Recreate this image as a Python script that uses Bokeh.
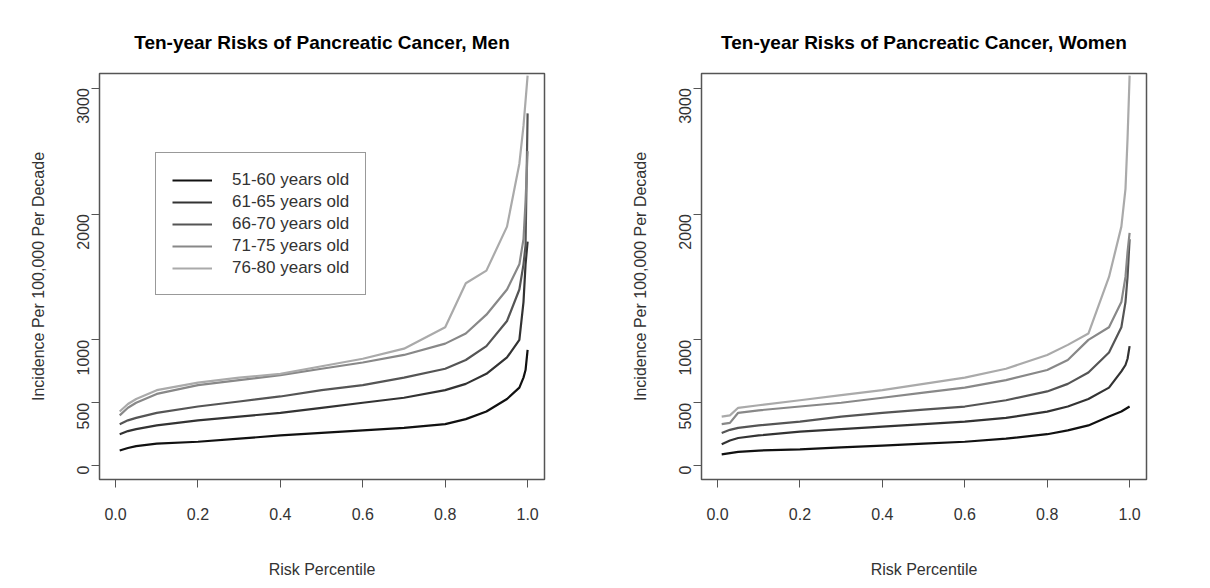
import math
from bokeh.plotting import figure
from bokeh.layouts import row
from bokeh.models import Range1d, FixedTicker, Legend, LegendItem, Title
from bokeh.embed import file_html
from bokeh.resources import INLINE

pct = [0.01, 0.03, 0.05, 0.1, 0.2, 0.3, 0.4, 0.5, 0.6, 0.7, 0.8, 0.85, 0.9, 0.95, 0.98, 0.99, 0.995, 1.0]
groups = ["51-60 years old", "61-65 years old", "66-70 years old", "71-75 years old", "76-80 years old"]
colors = ["#111111", "#333333", "#555555", "#888888", "#aaaaaa"]

men = [
    [120, 140, 155, 175, 190, 215, 240, 260, 280, 300, 330, 370, 430, 530, 620, 700, 760, 920],
    [250, 275, 290, 320, 360, 390, 420, 460, 500, 540, 600, 650, 730, 860, 1000, 1300, 1600, 1780],
    [330, 360, 380, 420, 470, 510, 550, 600, 640, 700, 770, 840, 950, 1150, 1400, 1600, 1750, 2800],
    [400, 460, 500, 570, 640, 680, 720, 770, 820, 880, 970, 1050, 1200, 1400, 1600, 1800, 2100, 2500],
    [430, 490, 530, 600, 660, 700, 730, 790, 850, 930, 1100, 1450, 1550, 1900, 2400, 2700, 2900, 3100],
]
women = [
    [90, 100, 110, 120, 130, 145, 160, 175, 190, 215, 250, 280, 320, 390, 430, 450, 460, 470],
    [170, 200, 220, 240, 270, 290, 310, 330, 350, 380, 430, 470, 530, 620, 750, 800, 850, 950],
    [260, 285, 300, 320, 350, 390, 420, 445, 470, 520, 590, 650, 740, 900, 1100, 1300, 1500, 1800],
    [330, 340, 420, 440, 470, 500, 540, 580, 620, 680, 760, 840, 1000, 1100, 1300, 1500, 1700, 1850],
    [390, 400, 460, 480, 520, 560, 600, 650, 700, 770, 880, 960, 1050, 1500, 1900, 2200, 2600, 3100],
]
xticks = [0.0, 0.2, 0.4, 0.6, 0.8, 1.0]
yticks = [0, 500, 1000, 2000, 3000]

FONT = "Liberation Sans"

def make(title, data, width, bl, br, legend):
    p = figure(width=width, height=580, output_backend="svg", toolbar_location=None,
               x_range=Range1d(-0.039, 1.041), y_range=Range1d(-110, 3117),
               min_border_left=bl, min_border_right=br, min_border_top=73, min_border_bottom=94)
    p.title = Title(text=title, text_font=FONT, text_font_size="19px", text_font_style="bold",
                    align="center", text_color="#000000", offset=0)
    p.title.standoff = 42
    p.xgrid.visible = False
    p.ygrid.visible = False
    p.outline_line_color = "#555555"
    p.outline_line_width = 1.5
    items = []
    for i, (g, c) in enumerate(zip(groups, colors)):
        r = p.line(pct, data[i], line_color=c, line_width=2.2)
        items.append(LegendItem(label=g, renderers=[r]))
    for ax in (p.xaxis[0], p.yaxis[0]):
        ax.axis_line_color = "#555555"
        ax.major_tick_line_color = "#555555"
        ax.minor_tick_line_color = None
        ax.major_tick_out = 8
        ax.major_tick_in = 0
        ax.major_label_text_font = FONT
        ax.major_label_text_font_size = "16px"
        ax.major_label_text_color = "#333333"
        ax.axis_label_text_font = FONT
        ax.axis_label_text_font_size = "16px"
        ax.axis_label_text_font_style = "normal"
        ax.axis_label_text_color = "#333333"
    p.xaxis.ticker = FixedTicker(ticks=xticks)
    p.yaxis.ticker = FixedTicker(ticks=yticks)
    p.xaxis.major_label_overrides = {t: f"{t:.1f}" for t in xticks}
    p.xaxis.axis_label = "Risk Percentile"
    p.xaxis.axis_label_standoff = 38
    p.xaxis.major_label_standoff = 20
    p.yaxis.axis_label = "Incidence Per 100,000 Per Decade"
    p.yaxis.major_label_orientation = math.pi / 2
    p.yaxis.major_label_standoff = 8
    p.yaxis.axis_label_standoff = 22
    if legend:
        lg = Legend(items=items, location=(56, 184), label_text_font=FONT, label_text_font_size="17px",
                    label_text_color="#333333", border_line_color="#333333", border_line_width=1.5,
                    glyph_width=40, label_standoff=20, padding=16, spacing=1, label_height=21,
                    margin=0)
        p.add_layout(lg, "center")
    return p

p1 = make("Ten-year Risks of Pancreatic Cancer, Men", men, 600, 99, 56, True)
p2 = make("Ten-year Risks of Pancreatic Cancer, Women", women, 598, 101, 52, False)
layout = row(p1, p2)
open("out.html", "w").write(file_html(layout, INLINE))
